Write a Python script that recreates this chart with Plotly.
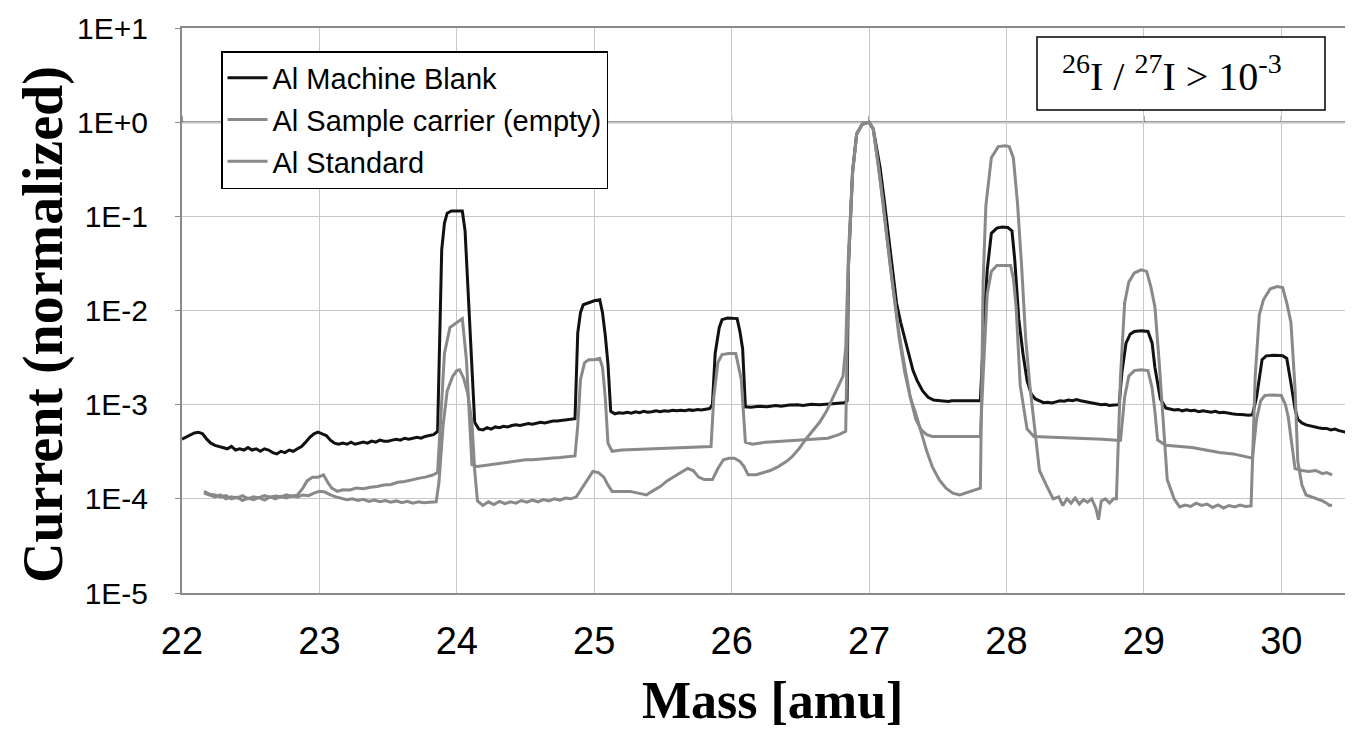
import plotly.graph_objects as go

# ---------------- data ----------------
series_names = ["Al Machine Blank", "Al Sample carrier (empty)", "Al Standard"]

mass_blank = [
    22.00, 22.03, 22.06, 22.09, 22.12, 22.15, 22.18, 22.21, 22.24, 22.27, 22.30, 22.33, 22.36, 22.39,
    22.42, 22.45, 22.48, 22.51, 22.54, 22.57, 22.60, 22.63, 22.66, 22.69, 22.72, 22.75, 22.78, 22.81,
    22.84, 22.87, 22.90, 22.93, 22.96, 22.99, 23.02, 23.05, 23.08, 23.11, 23.14, 23.17, 23.20, 23.23,
    23.26, 23.29, 23.32, 23.35, 23.38, 23.41, 23.44, 23.47, 23.50, 23.53, 23.56, 23.59, 23.62, 23.65,
    23.68, 23.71, 23.74, 23.77, 23.80, 23.83, 23.86, 23.88, 23.89, 23.91, 23.93, 23.96, 24.00, 24.04,
    24.06, 24.07, 24.10, 24.13, 24.16, 24.19, 24.22, 24.25, 24.28, 24.31, 24.34, 24.37, 24.40, 24.43,
    24.46, 24.49, 24.52, 24.55, 24.58, 24.61, 24.64, 24.67, 24.70, 24.73, 24.76, 24.79, 24.82, 24.86,
    24.88, 24.90, 24.92, 24.96, 25.00, 25.04, 25.06, 25.08, 25.10, 25.12, 25.15, 25.18, 25.21, 25.24,
    25.27, 25.30, 25.33, 25.36, 25.39, 25.42, 25.45, 25.48, 25.51, 25.54, 25.57, 25.60, 25.63, 25.66,
    25.69, 25.72, 25.75, 25.78, 25.81, 25.84, 25.86, 25.88, 25.91, 25.93, 25.97, 26.01, 26.04, 26.06,
    26.08, 26.10, 26.14, 26.20, 26.26, 26.32, 26.36, 26.42, 26.48, 26.52, 26.58, 26.64, 26.70, 26.76,
    26.82, 26.84, 26.85, 26.88, 26.91, 26.95, 27.00, 27.03, 27.08, 27.11, 27.14, 27.17, 27.20, 27.23,
    27.26, 27.29, 27.32, 27.35, 27.39, 27.43, 27.47, 27.52, 27.58, 27.60, 27.66, 27.72, 27.78, 27.81,
    27.84, 27.86, 27.89, 27.93, 27.97, 28.01, 28.04, 28.06, 28.09, 28.12, 28.15, 28.18, 28.21, 28.24,
    28.27, 28.30, 28.33, 28.36, 28.39, 28.42, 28.45, 28.48, 28.51, 28.54, 28.57, 28.60, 28.63, 28.66,
    28.69, 28.72, 28.75, 28.78, 28.82, 28.84, 28.87, 28.90, 28.93, 28.98, 29.03, 29.06, 29.08, 29.12,
    29.16, 29.19, 29.22, 29.25, 29.28, 29.31, 29.34, 29.37, 29.40, 29.43, 29.46, 29.49, 29.52, 29.55,
    29.58, 29.61, 29.64, 29.67, 29.70, 29.73, 29.76, 29.79, 29.82, 29.84, 29.86, 29.89, 29.95, 30.01,
    30.04, 30.07, 30.10, 30.12, 30.15, 30.18, 30.21, 30.24, 30.27, 30.30, 30.33, 30.36, 30.39, 30.42,
    30.45, 30.48, 30.50,
]
current_blank = [
    4.3e-4, 4.5e-4, 4.8e-4, 5.0e-4, 5.1e-4, 4.9e-4, 4.3e-4, 3.9e-4, 3.7e-4, 3.6e-4, 3.5e-4, 3.4e-4, 3.6e-4, 3.3e-4,
    3.4e-4, 3.3e-4, 3.5e-4, 3.3e-4, 3.4e-4, 3.2e-4, 3.4e-4, 3.3e-4, 3.1e-4, 3.0e-4, 3.2e-4, 3.1e-4, 3.3e-4, 3.2e-4,
    3.4e-4, 3.6e-4, 4.0e-4, 4.5e-4, 4.9e-4, 5.1e-4, 4.9e-4, 4.7e-4, 4.2e-4, 3.9e-4, 3.8e-4, 3.9e-4, 3.8e-4, 4.0e-4,
    3.8e-4, 3.9e-4, 4.0e-4, 3.9e-4, 4.1e-4, 4.0e-4, 4.2e-4, 4.1e-4, 4.1e-4, 4.2e-4, 4.3e-4, 4.2e-4, 4.4e-4, 4.3e-4,
    4.4e-4, 4.5e-4, 4.4e-4, 4.6e-4, 4.7e-4, 4.8e-4, 5.2e-4, 0.012, 0.044, 0.085, 0.108, 0.114, 0.115, 0.114,
    0.07, 0.037, 0.006, 6.5e-4, 5.5e-4, 5.4e-4, 5.7e-4, 5.5e-4, 5.8e-4, 5.7e-4, 5.9e-4, 5.8e-4, 6.0e-4, 6.1e-4,
    6.0e-4, 6.2e-4, 6.3e-4, 6.2e-4, 6.4e-4, 6.5e-4, 6.4e-4, 6.6e-4, 6.7e-4, 6.7e-4, 6.8e-4, 6.8e-4, 6.9e-4, 7.1e-4,
    5.8e-3, 9.5e-3, 0.0115, 0.0122, 0.0127, 0.013, 0.0095, 5.5e-3, 2.7e-3, 8.5e-4, 8.0e-4, 8.2e-4, 8.1e-4, 8.3e-4,
    8.1e-4, 8.4e-4, 8.2e-4, 8.5e-4, 8.3e-4, 8.4e-4, 8.6e-4, 8.4e-4, 8.6e-4, 8.5e-4, 8.7e-4, 8.6e-4, 8.7e-4, 8.6e-4,
    8.8e-4, 8.7e-4, 8.9e-4, 8.8e-4, 9.0e-4, 9.1e-4, 1.0e-3, 3.5e-3, 6.6e-3, 8.0e-3, 8.3e-3, 8.3e-3, 8.2e-3, 6.0e-3,
    3.9e-3, 9.5e-4, 9.4e-4, 9.6e-4, 9.5e-4, 9.8e-4, 9.6e-4, 9.9e-4, 1.0e-3, 9.8e-4, 1.01e-3, 1.0e-3, 1.02e-3, 1.03e-3,
    1.05e-3, 1.1e-3, 0.03, 0.3, 0.75, 0.95, 1.0, 0.85, 0.33, 0.15, 0.066, 0.027, 0.012, 7.5e-3,
    5.0e-3, 3.3e-3, 2.3e-3, 1.8e-3, 1.4e-3, 1.2e-3, 1.12e-3, 1.1e-3, 1.08e-3, 1.1e-3, 1.1e-3, 1.1e-3, 1.1e-3, 1.1e-3,
    9e-3, 0.027, 0.066, 0.075, 0.077, 0.076, 0.07, 0.035, 8e-3, 3.5e-3, 1.8e-3, 1.3e-3, 1.15e-3, 1.1e-3,
    1.05e-3, 1.06e-3, 1.04e-3, 1.07e-3, 1.1e-3, 1.09e-3, 1.12e-3, 1.1e-3, 1.13e-3, 1.1e-3, 1.08e-3, 1.06e-3, 1.04e-3, 1.02e-3,
    1.0e-3, 1.01e-3, 9.8e-4, 9.9e-4, 1.0e-3, 2.2e-3, 4.5e-3, 5.6e-3, 6.0e-3, 6.1e-3, 6.0e-3, 4.5e-3, 2.5e-3, 1.15e-3,
    9.2e-4, 9.0e-4, 8.8e-4, 8.9e-4, 8.6e-4, 8.8e-4, 8.6e-4, 8.7e-4, 8.4e-4, 8.6e-4, 8.4e-4, 8.3e-4, 8.5e-4, 8.2e-4,
    8.3e-4, 8.1e-4, 8.0e-4, 7.9e-4, 7.9e-4, 7.8e-4, 7.7e-4, 7.8e-4, 1.2e-3, 1.8e-3, 3.0e-3, 3.3e-3, 3.35e-3, 3.3e-3,
    3.1e-3, 1.7e-3, 9e-4, 7e-4, 6.4e-4, 6.1e-4, 6.0e-4, 5.8e-4, 5.7e-4, 5.6e-4, 5.6e-4, 5.4e-4, 5.5e-4, 5.3e-4,
    5.2e-4, 5.1e-4, 5.0e-4,
]

mass_carrier = [
    22.16, 22.20, 22.24, 22.28, 22.32, 22.36, 22.40, 22.44, 22.48, 22.52, 22.56, 22.60, 22.64, 22.68,
    22.72, 22.76, 22.80, 22.84, 22.88, 22.91, 22.95, 22.99, 23.03, 23.06, 23.09, 23.13, 23.17, 23.22,
    23.27, 23.32, 23.37, 23.42, 23.47, 23.52, 23.57, 23.62, 23.67, 23.72, 23.77, 23.82, 23.86, 23.89,
    23.91, 23.95, 23.99, 24.02, 24.04, 24.07, 24.09, 24.11, 24.15, 24.20, 24.25, 24.30, 24.35, 24.40,
    24.45, 24.50, 24.55, 24.60, 24.65, 24.70, 24.75, 24.80, 24.86, 24.88, 24.90, 24.93, 24.96, 25.00,
    25.04, 25.06, 25.08, 25.10, 25.13, 25.20, 25.30, 25.40, 25.50, 25.60, 25.70, 25.80, 25.85, 25.87,
    25.90, 25.93, 25.98, 26.03, 26.07, 26.10, 26.15, 26.25, 26.35, 26.50, 26.60, 26.70, 26.78, 26.83,
    26.85, 26.88, 26.91, 26.95, 27.00, 27.03, 27.07, 27.10, 27.13, 27.16, 27.19, 27.22, 27.26, 27.30,
    27.34, 27.38, 27.42, 27.46, 27.55, 27.65, 27.75, 27.81, 27.83, 27.86, 27.89, 27.93, 27.98, 28.03,
    28.05, 28.07, 28.10, 28.15, 28.20, 28.30, 28.40, 28.50, 28.60, 28.70, 28.80, 28.83, 28.86, 28.89,
    28.93, 28.98, 29.03, 29.06, 29.08, 29.10, 29.16, 29.25, 29.35, 29.45, 29.55, 29.65, 29.75, 29.79,
    29.82, 29.85, 29.88, 29.94, 30.00, 30.03, 30.05, 30.08, 30.10, 30.15, 30.20, 30.25, 30.30, 30.33,
    30.37,
]
current_carrier = [
    1.15e-4, 1.1e-4, 1.05e-4, 1.1e-4, 1.0e-4, 1.05e-4, 1.02e-4, 1.08e-4, 1.0e-4, 1.05e-4, 1.03e-4, 1.08e-4, 1.04e-4, 1.07e-4,
    1.05e-4, 1.1e-4, 1.06e-4, 1.1e-4, 1.3e-4, 1.55e-4, 1.7e-4, 1.7e-4, 1.8e-4, 1.5e-4, 1.3e-4, 1.2e-4, 1.25e-4, 1.24e-4,
    1.3e-4, 1.28e-4, 1.33e-4, 1.35e-4, 1.4e-4, 1.42e-4, 1.5e-4, 1.53e-4, 1.6e-4, 1.65e-4, 1.7e-4, 1.78e-4, 1.9e-4, 1.0e-3,
    3.5e-3, 6.6e-3, 7.3e-3, 7.8e-3, 8.2e-3, 3.0e-3, 8.0e-4, 2.3e-4, 2.2e-4, 2.25e-4, 2.3e-4, 2.35e-4, 2.4e-4, 2.5e-4,
    2.52e-4, 2.6e-4, 2.6e-4, 2.65e-4, 2.7e-4, 2.72e-4, 2.75e-4, 2.8e-4, 2.85e-4, 6e-4, 1.85e-3, 2.8e-3, 3.0e-3, 3.0e-3,
    3.1e-3, 2.5e-3, 1.2e-3, 3.9e-4, 3.2e-4, 3.3e-4, 3.35e-4, 3.4e-4, 3.4e-4, 3.45e-4, 3.5e-4, 3.55e-4, 3.6e-4, 1.2e-3,
    2.8e-3, 3.4e-3, 3.5e-3, 3.5e-3, 1.85e-3, 4.0e-4, 3.8e-4, 4.0e-4, 4.1e-4, 4.2e-4, 4.3e-4, 4.4e-4, 4.8e-4, 5.2e-4,
    0.03, 0.28, 0.75, 0.95, 1.0, 0.85, 0.33, 0.15, 0.06, 0.025, 0.011, 5.5e-3, 2.5e-3, 1.2e-3,
    7.0e-4, 5.4e-4, 4.8e-4, 4.6e-4, 4.6e-4, 4.6e-4, 4.6e-4, 4.6e-4, 2e-3, 0.015, 0.026, 0.030, 0.030, 0.030,
    0.022, 0.011, 1.6e-3, 5.5e-4, 4.6e-4, 4.55e-4, 4.5e-4, 4.4e-4, 4.35e-4, 4.3e-4, 4.2e-4, 4.2e-4, 1.2e-3, 2.0e-3,
    2.3e-3, 2.35e-3, 2.3e-3, 1.5e-3, 8.5e-4, 4.2e-4, 3.7e-4, 3.6e-4, 3.5e-4, 3.3e-4, 3.1e-4, 3.0e-4, 2.8e-4, 2.7e-4,
    7e-4, 1.1e-3, 1.25e-3, 1.27e-3, 1.25e-3, 1.0e-3, 7.5e-4, 3.5e-4, 2.1e-4, 2.0e-4, 1.95e-4, 2.0e-4, 1.85e-4, 1.9e-4,
    1.8e-4,
]

mass_standard = [
    22.16, 22.20, 22.24, 22.28, 22.32, 22.36, 22.40, 22.44, 22.48, 22.52, 22.56, 22.60, 22.64, 22.68,
    22.72, 22.76, 22.80, 22.84, 22.88, 22.92, 22.96, 23.00, 23.04, 23.08, 23.12, 23.16, 23.20, 23.24,
    23.28, 23.32, 23.36, 23.40, 23.44, 23.48, 23.52, 23.56, 23.60, 23.64, 23.68, 23.72, 23.76, 23.80,
    23.85, 23.87, 23.90, 23.93, 23.97, 24.00, 24.02, 24.05, 24.08, 24.11, 24.13, 24.15, 24.19, 24.23,
    24.27, 24.31, 24.35, 24.39, 24.43, 24.47, 24.51, 24.55, 24.59, 24.63, 24.67, 24.71, 24.75, 24.79,
    24.83, 24.87, 24.91, 24.95, 24.99, 25.03, 25.07, 25.10, 25.13, 25.20, 25.26, 25.32, 25.38, 25.42,
    25.48, 25.53, 25.58, 25.63, 25.68, 25.72, 25.76, 25.80, 25.86, 25.90, 25.94, 25.98, 26.02, 26.06,
    26.09, 26.12, 26.18, 26.24, 26.28, 26.34, 26.40, 26.44, 26.49, 26.54, 26.59, 26.64, 26.69, 26.74,
    26.78, 26.81, 26.83, 26.85, 26.88, 26.91, 26.95, 27.00, 27.03, 27.07, 27.10, 27.13, 27.16, 27.19,
    27.22, 27.26, 27.30, 27.34, 27.38, 27.42, 27.46, 27.51, 27.56, 27.61, 27.66, 27.70, 27.74, 27.78,
    27.81, 27.83, 27.85, 27.89, 27.94, 27.99, 28.02, 28.05, 28.08, 28.11, 28.14, 28.17, 28.21, 28.24,
    28.29, 28.34, 28.38, 28.41, 28.44, 28.47, 28.50, 28.53, 28.56, 28.59, 28.62, 28.65, 28.67, 28.69,
    28.72, 28.75, 28.78, 28.80, 28.83, 28.86, 28.89, 28.93, 28.98, 29.02, 29.05, 29.08, 29.11, 29.14,
    29.17, 29.22, 29.26, 29.30, 29.34, 29.38, 29.42, 29.46, 29.50, 29.54, 29.58, 29.62, 29.66, 29.70,
    29.74, 29.78, 29.81, 29.84, 29.87, 29.92, 29.97, 30.01, 30.04, 30.07, 30.10, 30.12, 30.15, 30.18,
    30.22, 30.26, 30.30, 30.33, 30.35, 30.37,
]
current_standard = [
    1.2e-4, 1.12e-4, 1.1e-4, 1.05e-4, 1.08e-4, 1.0e-4, 1.04e-4, 9.6e-5, 1.02e-4, 9.8e-5, 1.03e-4, 9.7e-5, 1.05e-4, 1.0e-4,
    1.06e-4, 1.02e-4, 1.08e-4, 1.05e-4, 1.1e-4, 1.08e-4, 1.15e-4, 1.2e-4, 1.18e-4, 1.1e-4, 1.05e-4, 1.02e-4, 9.8e-5, 1.0e-4,
    9.6e-5, 9.9e-5, 9.4e-5, 9.7e-5, 9.3e-5, 9.6e-5, 9.2e-5, 9.5e-5, 9.1e-5, 9.4e-5, 9.0e-5, 9.3e-5, 9.1e-5, 9.2e-5,
    9.3e-5, 1.5e-4, 6e-4, 1.4e-3, 2.0e-3, 2.3e-3, 2.35e-3, 1.9e-3, 1.3e-3, 6.5e-4, 2e-4, 9.5e-5, 8.5e-5, 9.3e-5,
    8.7e-5, 9.4e-5, 8.9e-5, 9.3e-5, 9.0e-5, 9.6e-5, 9.2e-5, 9.7e-5, 9.3e-5, 9.8e-5, 9.5e-5, 1.0e-4, 9.7e-5, 1.02e-4,
    1.0e-4, 1.05e-4, 1.3e-4, 1.6e-4, 1.95e-4, 1.9e-4, 1.7e-4, 1.4e-4, 1.2e-4, 1.2e-4, 1.2e-4, 1.15e-4, 1.1e-4, 1.2e-4,
    1.35e-4, 1.55e-4, 1.7e-4, 1.9e-4, 2.1e-4, 2.0e-4, 1.7e-4, 1.6e-4, 1.6e-4, 2.1e-4, 2.6e-4, 2.7e-4, 2.7e-4, 2.5e-4,
    2.2e-4, 1.8e-4, 1.8e-4, 1.9e-4, 2.0e-4, 2.2e-4, 2.5e-4, 2.8e-4, 3.4e-4, 4.3e-4, 5.3e-4, 6.5e-4, 8.5e-4, 1.2e-3,
    1.6e-3, 2.0e-3, 4.0e-3, 0.04, 0.3, 0.75, 0.95, 1.0, 0.85, 0.33, 0.15, 0.06, 0.025, 0.011,
    5.0e-3, 2.2e-3, 1.2e-3, 8.0e-4, 5.0e-4, 3.2e-4, 2.2e-4, 1.6e-4, 1.3e-4, 1.15e-4, 1.1e-4, 1.15e-4, 1.2e-4, 1.25e-4,
    1.3e-4, 0.02, 0.13, 0.42, 0.55, 0.56, 0.55, 0.42, 0.14, 0.03, 5e-3, 1.6e-3, 5e-4, 2.0e-4,
    1.4e-4, 1.0e-4, 1.05e-4, 8.5e-5, 1.0e-4, 9.0e-5, 1.02e-4, 8.8e-5, 9.8e-5, 9.2e-5, 1.0e-4, 8.0e-5, 6.0e-5, 9.5e-5,
    1.0e-4, 9.0e-5, 1.0e-4, 1.0e-4, 2e-3, 0.012, 0.02, 0.025, 0.027, 0.026, 0.018, 0.011, 3e-3, 7e-4,
    1.6e-4, 1.0e-4, 8.2e-5, 8.6e-5, 8.3e-5, 9.0e-5, 8.5e-5, 8.8e-5, 8.1e-5, 8.6e-5, 8.0e-5, 8.5e-5, 8.2e-5, 8.6e-5,
    8.3e-5, 8.4e-5, 2e-3, 9e-3, 0.013, 0.017, 0.018, 0.0175, 0.012, 7.5e-3, 1.5e-3, 2.5e-4, 1.4e-4, 1.1e-4,
    1.05e-4, 1.0e-4, 9.5e-5, 9.0e-5, 8.5e-5, 8.6e-5,
]

x_tick_values = [22, 23, 24, 25, 26, 27, 28, 29, 30]
y_tick_values = [1e-5, 1e-4, 1e-3, 1e-2, 1e-1, 1e0, 1e1]
y_tick_labels = ["1E-5", "1E-4", "1E-3", "1E-2", "1E-1", "1E+0", "1E+1"]
x_range = [22, 30.5]
y_log_range = [-5, 1]
x_title = "Mass [amu]"
y_title = "Current (normalized)"
ratio_note = "<sup>26</sup>I / <sup>27</sup>I &gt; 10<sup>-3</sup>"

# ---------------- layout geometry ----------------
# the page body has an 8 px default margin, so the figure is drawn 8 px smaller
# and every target page position below is converted accordingly
OFF = 8
W, H = 1353 - OFF, 731 - OFF
ML, MR, MT, MB = 182 - OFF, 3, 28 - OFF, 138
PW, PH = W - ML - MR, H - MT - MB


def px_x(px):
    return (px - OFF - ML) / PW


def px_y(py):
    return (H - MB - (py - OFF)) / PH


line_colors = ["#111111", "#898989", "#898989"]
SANS = "Liberation Sans, Arial, sans-serif"
SERIF = "Liberation Serif, Times New Roman, serif"

fig = go.Figure()
for i, (xs, ys) in enumerate([(mass_blank, current_blank),
                              (mass_carrier, current_carrier),
                              (mass_standard, current_standard)]):
    fig.add_trace(go.Scatter(
        x=xs, y=ys, mode="lines", name=series_names[i],
        legendgroup=f"g{i}",
        line=dict(color=line_colors[i], width=3),
    ))

# Excel-style category axis crossing at 1E+0 (line + upward tick marks)
cross_frac = (0 - y_log_range[0]) / (y_log_range[1] - y_log_range[0])
shapes = [dict(type="line", xref="paper", yref="paper", x0=0, x1=1,
               y0=cross_frac, y1=cross_frac, layer="between",
               line=dict(color="#7a7a7a", width=2))]
for xv in x_tick_values:
    shapes.append(dict(type="line", xref="x", yref="paper", x0=xv, x1=xv,
                       y0=cross_frac, y1=cross_frac + 6 / PH, layer="between",
                       line=dict(color="#222222", width=1)))

# box for the ratio note
shapes.append(dict(type="rect", xref="paper", yref="paper",
                   x0=px_x(1037), x1=px_x(1325), y0=px_y(110), y1=px_y(37),
                   layer="above", fillcolor="white",
                   line=dict(color="black", width=1.5)))

annotations = [
    dict(xref="paper", yref="paper", x=px_x(1172), y=px_y(74),
         xanchor="center", yanchor="middle", showarrow=False, text=ratio_note,
         font=dict(family=SERIF, size=40, color="black")),
    dict(xref="paper", yref="paper", x=px_x(772), y=px_y(731),
         xanchor="center", yanchor="bottom", showarrow=False,
         text=x_title,
         font=dict(family=SERIF, size=52, color="black", weight="bold")),
    dict(xref="paper", yref="paper", x=px_x(43), y=px_y(325),
         xanchor="center", yanchor="middle", showarrow=False, textangle=-90,
         text=y_title,
         font=dict(family=SERIF, size=56, color="black", weight="bold")),
]

fig.update_layout(
    width=W, height=H,
    margin=dict(l=ML, r=MR, t=MT, b=MB, autoexpand=False),
    paper_bgcolor="white", plot_bgcolor="white",
    font=dict(family=SANS, color="black"),
    showlegend=True,
    legend=dict(x=px_x(221), y=px_y(51), xanchor="left", yanchor="top",
                bgcolor="white", bordercolor="black", borderwidth=1.5,
                font=dict(family=SANS, size=29, color="black"),
                tracegroupgap=1, itemwidth=40),
    shapes=shapes,
    annotations=annotations,
)

fig.update_xaxes(
    range=x_range, tickmode="array", tickvals=x_tick_values,
    showgrid=True, gridcolor="#c8c8c8", gridwidth=1,
    showline=True, linecolor="#8a8a8a", linewidth=2, mirror=True,
    ticks="", zeroline=False, automargin=False,
    tickfont=dict(family=SANS, size=38, color="black"),
    ticklabelstandoff=13,
)
fig.update_yaxes(
    type="log", range=y_log_range, tickmode="array",
    tickvals=y_tick_values, ticktext=y_tick_labels,
    showgrid=True, gridcolor="#c8c8c8", gridwidth=1,
    showline=True, linecolor="#8a8a8a", linewidth=2, mirror=True,
    ticks="outside", ticklen=5, tickcolor="#8a8a8a", tickwidth=1,
    zeroline=False, automargin=False,
    tickfont=dict(family=SANS, size=30, color="black"),
    ticklabelstandoff=21,
)

fig.write_html("out.html")
